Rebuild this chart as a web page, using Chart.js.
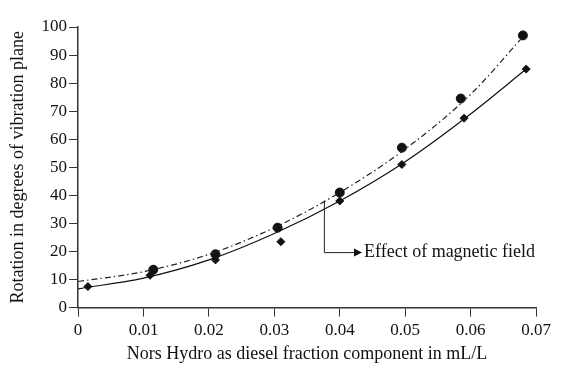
<!DOCTYPE html>
<html lang="en">
<head>
  <meta charset="UTF-8">
  <title>Rotation vs Nors Hydro fraction</title>
  <script src="https://cdn.jsdelivr.net/npm/chart.js"></script>
  <style>
    html, body { margin: 0; padding: 0; background: #fff; }
    #wrap { width: 561px; height: 374px; }
  </style>
</head>
<body>
  <div id="wrap"><canvas id="myChart"></canvas></div>
  <script>
    // measured points (diamonds) and with magnetic field (circles)
    const diamondX = [0.0015, 0.011, 0.021, 0.031, 0.040, 0.0495, 0.059, 0.0685];
    const diamondY = [7.5, 11.5, 17, 23.5, 38, 51, 67.5, 85];
    const circleX = [0.0115, 0.021, 0.0305, 0.040, 0.0495, 0.0585, 0.068];
    const circleY = [13.5, 19, 28.5, 41, 57, 74.5, 97];

    // trend curves
    const solidX = [0, 0.01, 0.02, 0.03, 0.04, 0.05, 0.06, 0.0685];
    const solidY = [6.7, 10.5, 17, 26.4, 38, 52, 69, 85];
    const dashX = [0, 0.01, 0.02, 0.03, 0.04, 0.05, 0.06, 0.068];
    const dashY = [9.3, 12.8, 19, 28.5, 41, 56.5, 76, 96.5];

    // callout: elbow line with arrow
    const calloutX = [0.03765, 0.03765, 0.0434];
    const calloutY = [38.1, 19.6, 19.6];
    const calloutText = 'Effect of magnetic field';

    const xTitle = 'Nors Hydro as diesel fraction component in mL/L';
    const yTitle = 'Rotation in degrees of vibration plane';

    const pts = (xs, ys) => xs.map((x, i) => ({ x: x, y: ys[i] }));
    const serif = "'Liberation Serif', 'DejaVu Serif', serif";

    const callout = {
      id: 'callout',
      afterDatasetsDraw(chart) {
        const c = chart.ctx, sx = chart.scales.x, sy = chart.scales.y;
        const p = calloutX.map((x, i) => [sx.getPixelForValue(x), sy.getPixelForValue(calloutY[i])]);
        c.save();
        c.strokeStyle = '#222';
        c.lineWidth = 1;
        c.beginPath();
        c.moveTo(p[0][0], p[0][1]);
        c.lineTo(p[1][0], p[1][1]);
        c.lineTo(p[2][0] - 6, p[2][1]);
        c.stroke();
        c.fillStyle = '#111';
        c.beginPath();
        c.moveTo(p[2][0], p[2][1]);
        c.lineTo(p[2][0] - 8, p[2][1] - 4);
        c.lineTo(p[2][0] - 8, p[2][1] + 4);
        c.closePath();
        c.fill();
        c.font = '18px ' + serif;
        c.textBaseline = 'middle';
        c.fillText(calloutText, p[2][0] + 2, p[2][1]);
        c.restore();
      }
    };

    const ctx = document.getElementById('myChart').getContext('2d');
    const myChart = new Chart(ctx, {
      type: 'scatter',
      data: {
        datasets: [
          {
            data: pts(dashX, dashY), showLine: true, cubicInterpolationMode: 'monotone',
            borderColor: '#222', borderWidth: 1.2, borderDash: [6, 3, 1.5, 3],
            pointRadius: 0
          },
          {
            data: pts(solidX, solidY), showLine: true, cubicInterpolationMode: 'monotone',
            borderColor: '#111', borderWidth: 1.2, pointRadius: 0
          },
          {
            data: pts(circleX, circleY), pointStyle: 'circle', pointRadius: 4.5,
            backgroundColor: '#111', borderColor: '#111'
          },
          {
            data: pts(diamondX, diamondY), pointStyle: 'rectRot', pointRadius: 4,
            backgroundColor: '#111', borderColor: '#111'
          }
        ]
      },
      options: {
        responsive: true,
        maintainAspectRatio: false,
        animation: false,
        layout: { padding: { top: 27, right: 25, left: 3, bottom: 7 } },
        plugins: { legend: { display: false }, tooltip: { enabled: false } },
        scales: {
          x: {
            type: 'linear', min: 0, max: 0.07,
            ticks: {
              stepSize: 0.01, color: '#111', font: { family: serif, size: 17 },
              padding: 4,
              callback: v => v === 0 ? '0' : v.toFixed(2)
            },
            grid: { drawOnChartArea: false, drawTicks: true, tickLength: 9, color: '#333' },
            border: { color: '#333', width: 1.5 },
            title: { display: true, text: xTitle, color: '#111', font: { family: serif, size: 18, lineHeight: 1 }, padding: { top: 0, bottom: 4 } }
          },
          y: {
            min: 0, max: 100,
            ticks: { stepSize: 10, color: '#111', font: { family: serif, size: 17 }, padding: 2 },
            grid: { drawOnChartArea: false, drawTicks: true, tickLength: 9, color: '#333' },
            border: { color: '#333', width: 1.5 },
            title: { display: true, text: yTitle, color: '#111', font: { family: serif, size: 18 }, padding: { top: 4, bottom: 11 } }
          }
        }
      },
      plugins: [callout]
    });
  </script>
</body>
</html>
